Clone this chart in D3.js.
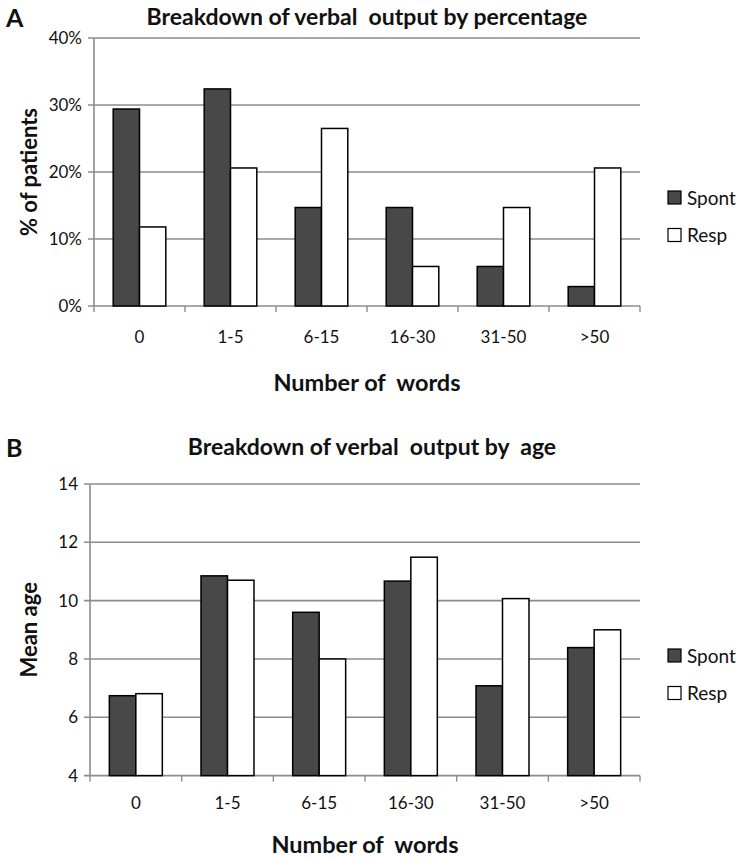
<!DOCTYPE html>
<html><head><meta charset="utf-8">
<script src="https://cdn.jsdelivr.net/npm/d3@7"></script>
<style>body{margin:0;background:#fff}svg{display:block}text{font-family:Lato,"Open Sans",sans-serif}</style>
</head><body><svg id="c" width="742" height="859"></svg>
<script>
const categories = ["0","1-5","6-15","16-30","31-50",">50"];
const seriesNames = ["Spont","Resp"];
const pctSpont = [29.4,32.4,14.7,14.7,5.9,2.9];
const pctResp  = [11.8,20.6,26.5,5.9,14.7,20.6];
const ageSpont = [6.74,10.85,9.6,10.67,7.08,8.39];
const ageResp  = [6.81,10.70,8.0,11.49,10.07,9.0];
const pctTicks = [0,10,20,30,40];
const ageTicks = [4,6,8,10,12,14];

const svg = d3.select("#c");
const fills = {Spont:"#484848", Resp:"#ffffff"};
const grid = "#8c8c8c";

function panel(o){
  const g = svg.append("g");
  const x = d3.scaleBand().domain(categories).range([o.x0,o.x1]);
  const xs = d3.scaleBand().domain(seriesNames).range([0,x.bandwidth()]).paddingInner(0).paddingOuter(0.73);
  const y = d3.scaleLinear().domain(o.domain).range([o.y0,o.y1]);
  g.selectAll(".gl").data(o.ticks).join("line")
    .attr("x1",o.x0-6).attr("x2",o.x1).attr("y1",d=>y(d)).attr("y2",d=>y(d))
    .attr("stroke",grid).attr("stroke-width",1.6);
  g.append("line").attr("x1",o.x0).attr("x2",o.x0).attr("y1",y(o.domain[0])).attr("y2",y(o.domain[1]))
    .attr("stroke",grid).attr("stroke-width",1.6);
  const xt = categories.map(c=>x(c)).concat([o.x1]);
  g.selectAll(".xt").data(xt).join("line")
    .attr("x1",d=>d).attr("x2",d=>d).attr("y1",o.y0).attr("y2",o.y0+6)
    .attr("stroke",grid).attr("stroke-width",1.4);
  g.selectAll(".yl").data(o.ticks).join("text")
    .attr("x",o.x0-12).attr("y",d=>y(d)).attr("dy","0.35em").attr("text-anchor","end")
    .attr("font-size",17).attr("fill","#111").text(o.fmt);
  const rows = categories.map((c,i)=>({c, v:{Spont:o.s[i], Resp:o.r[i]}}));
  const grp = g.selectAll(".grp").data(rows).join("g").attr("transform",d=>`translate(${x(d.c)},0)`);
  grp.selectAll("rect").data(d=>seriesNames.map(k=>({k,v:d.v[k]}))).join("rect")
    .attr("x",d=>xs(d.k)).attr("width",xs.bandwidth())
    .attr("y",d=>y(d.v)).attr("height",d=>y(o.domain[0])-y(d.v))
    .attr("fill",d=>fills[d.k]).attr("stroke","#000").attr("stroke-width",1.5);
  g.selectAll(".xl").data(categories).join("text")
    .attr("x",d=>x(d)+x.bandwidth()/2).attr("y",o.y0+o.xlOff).attr("text-anchor","middle")
    .attr("font-size",17).attr("fill","#111").text(d=>d);
  g.append("text").attr("x",(o.x0+o.x1)/2).attr("y",o.y0+o.xtOff).attr("text-anchor","middle")
    .attr("font-size",23.5).attr("font-weight","bold").attr("fill","#111")
    .style("white-space","pre").text("Number of  words");
  g.append("text").attr("x",o.tx).attr("y",o.ty).attr("text-anchor","middle")
    .attr("font-size",23).attr("font-weight","bold").attr("fill","#111")
    .style("white-space","pre").text(o.title);
  g.append("text").attr("x",6).attr("y",o.ty+2).attr("font-size",25).attr("font-weight","bold")
    .attr("fill","#111").text(o.letter);
  g.append("text").attr("transform",`translate(37,${(o.y0+o.y1)/2}) rotate(-90)`).attr("text-anchor","middle")
    .attr("font-size",22).attr("font-weight","bold").attr("fill","#111").text(o.ytitle);
  const lg = g.selectAll(".lg").data(seriesNames).join("g")
    .attr("transform",(d,i)=>`translate(668,${o.ly+i*37.5})`);
  lg.append("rect").attr("width",13).attr("height",13).attr("fill",d=>fills[d]).attr("stroke","#000").attr("stroke-width",1.2);
  lg.append("text").attr("x",19).attr("y",6.5).attr("dy","0.38em").attr("font-size",19).attr("fill","#111").text(d=>d);
}

panel({x0:94,x1:640,y0:306,y1:38,domain:[0,40],ticks:pctTicks,fmt:d=>d+"%",s:pctSpont,r:pctResp,
  title:"Breakdown of verbal  output by percentage",tx:367,ty:25,letter:"A",ytitle:"% of patients",ly:191,xlOff:37,xtOff:85});
panel({x0:90,x1:640,y0:775.6,y1:484,domain:[4,14],ticks:ageTicks,fmt:d=>d,s:ageSpont,r:ageResp,
  title:"Breakdown of verbal  output by  age",tx:372,ty:455,letter:"B",ytitle:"Mean age",ly:649,xlOff:33,xtOff:77});
</script></body></html>
